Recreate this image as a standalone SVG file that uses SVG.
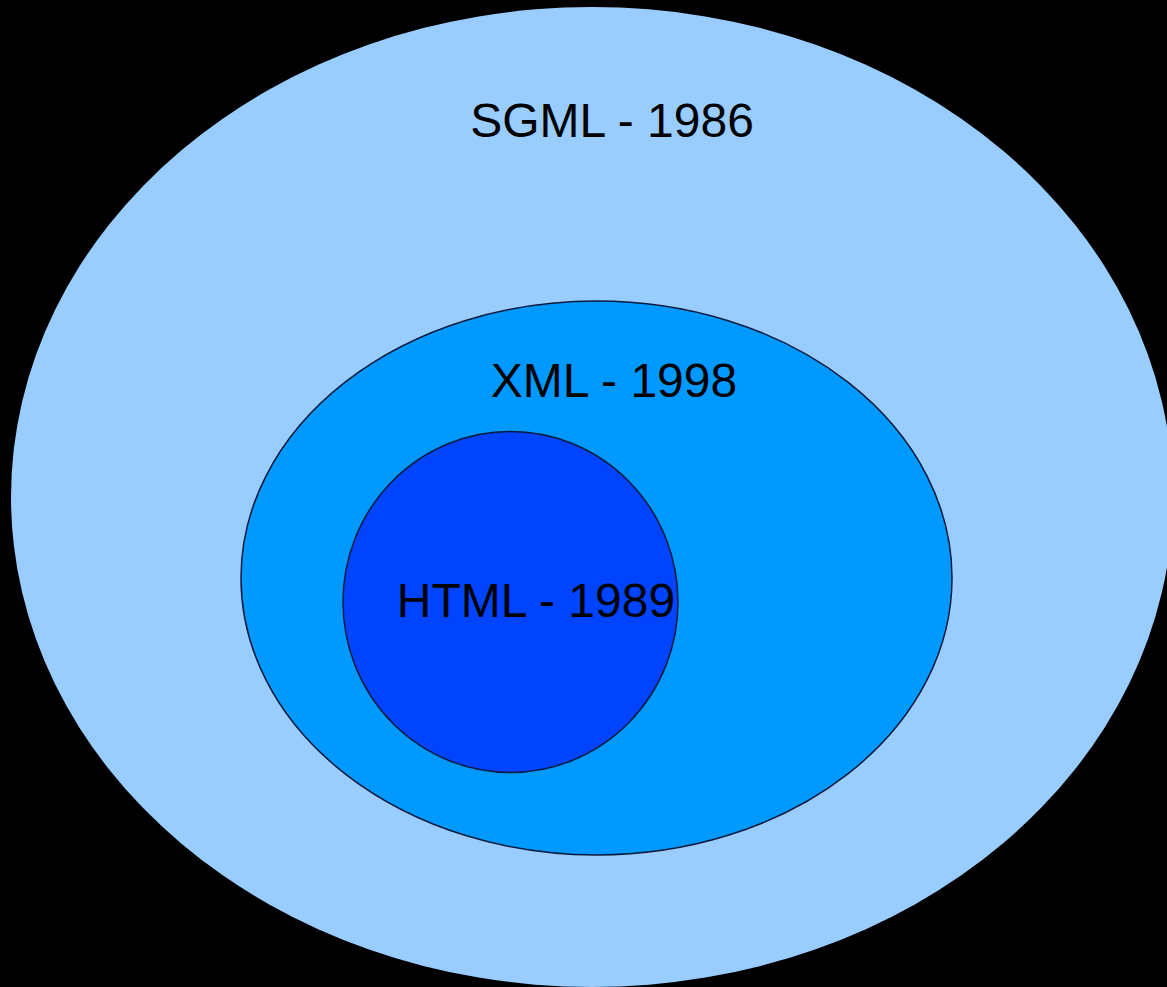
<svg xmlns="http://www.w3.org/2000/svg" width="1167" height="987" viewBox="0 0 1167 987">
  <style>
    .lbl { font-family: "Liberation Sans", Arial, sans-serif; font-size: 48px; fill: #000; text-anchor: middle; }
    .ring { stroke: #0a1a3a; stroke-width: 1.5; }
  </style>
  <rect x="0" y="0" width="1167" height="987" fill="#000"/>
  <g id="sgml">
    <ellipse cx="592" cy="497" rx="581" ry="490" fill="#99ccff"/>
    <text class="lbl" x="612" y="137">SGML - 1986</text>
  </g>
  <g id="xml">
    <ellipse class="ring" cx="596.5" cy="578" rx="355.5" ry="277" fill="#0099ff"/>
    <text class="lbl" x="614" y="397">XML - 1998</text>
  </g>
  <g id="html">
    <ellipse class="ring" cx="510.5" cy="602" rx="167.5" ry="170.5" fill="#0044ff"/>
    <text class="lbl" x="536" y="617">HTML - 1989</text>
  </g>
  <g id="connectors"/>
</svg>
